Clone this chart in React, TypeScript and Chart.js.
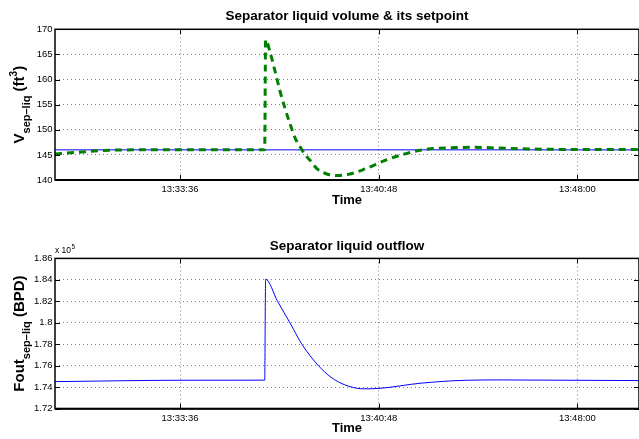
import React, { useEffect, useRef } from "react";
import { Chart, registerables } from "chart.js";

Chart.register(...registerables);

const FONT = "'Liberation Sans', Arial, Helvetica, sans-serif";
const GRID = "rgba(0,0,0,0.5)";

// ---- data ----
const timeStart = "13:29:04";
const timeEnd = "13:50:14";
const timeTicks = ["13:33:36", "13:40:48", "13:48:00"];

const volTitle = "Separator liquid volume & its setpoint";
const volTicks = [140, 145, 150, 155, 160, 165, 170];
const volTimes = [
  "13:29:04", "13:29:52", "13:30:42", "13:31:54", "13:36:40", "13:36:42",
  "13:36:52", "13:37:03", "13:37:13", "13:37:24", "13:37:35", "13:37:46",
  "13:37:57", "13:38:08", "13:38:19", "13:38:33", "13:38:55", "13:39:20",
  "13:39:46", "13:40:18", "13:41:05", "13:41:49", "13:42:32", "13:43:16",
  "13:44:14", "13:45:26", "13:47:08", "13:50:14",
];
const volValues = [
  145.2, 145.5, 145.85, 146.0, 146.0, 167.9,
  165.3, 161.5, 157.8, 154.3, 151.2, 148.4,
  146.6, 145.0, 143.9, 142.3, 141.2, 140.9,
  141.2, 142.2, 144.0, 145.3, 146.1, 146.4,
  146.5, 146.3, 146.1, 146.05,
];
const setTimes = ["13:29:04", "13:50:14"];
const setValues = [146, 146];

const outTitle = "Separator liquid outflow";
const outTicks = [172000, 174000, 176000, 178000, 180000, 182000, 184000, 186000];
const outTimes = [
  "13:29:04", "13:31:25", "13:33:36", "13:36:40", "13:36:42", "13:37:08",
  "13:37:35", "13:38:01", "13:38:37", "13:39:02", "13:39:20", "13:39:46",
  "13:40:15", "13:40:51", "13:42:18", "13:43:59", "13:45:19", "13:47:44",
  "13:50:14",
];
const outValues = [
  174520, 174600, 174650, 174660, 184060, 182000,
  180000, 178000, 176000, 175000, 174500, 174050,
  173850, 173900, 174370, 174650, 174680, 174650,
  174620,
];

// ---- helpers ----
const toSec = (s: string) => {
  const [h, m, x] = s.split(":").map(Number);
  return h * 3600 + m * 60 + x;
};
const pad = (n: number) => String(n).padStart(2, "0");
const fmtTime = (v: number) => {
  const r = Math.round(v);
  return `${Math.floor(r / 3600)}:${pad(Math.floor((r % 3600) / 60))}:${pad(r % 60)}`;
};

type Part = { t: string; size: number; dy: number };

const decor = {
  id: "decor",
  afterDraw(chart: any, _a: any, o: any) {
    const { ctx, chartArea: a } = chart;
    const xs = chart.scales.x;
    const ys = chart.scales.y;
    ctx.save();
    ctx.strokeStyle = "#000";
    ctx.lineWidth = 1;
    ctx.setLineDash([]);
    ctx.beginPath();
    for (const t of xs.ticks) {
      const px = Math.round(xs.getPixelForValue(t.value)) + 0.5;
      ctx.moveTo(px, a.bottom);
      ctx.lineTo(px, a.bottom - 5);
      ctx.moveTo(px, a.top);
      ctx.lineTo(px, a.top + 5);
    }
    for (const t of ys.ticks) {
      const py = Math.round(ys.getPixelForValue(t.value)) + 0.5;
      ctx.moveTo(a.left, py);
      ctx.lineTo(a.left + 5, py);
      ctx.moveTo(a.right, py);
      ctx.lineTo(a.right - 5, py);
    }
    ctx.stroke();
    ctx.lineWidth = 1.5;
    ctx.strokeRect(a.left, a.top, a.right - a.left, a.bottom - a.top);
    ctx.lineWidth = 2;
    ctx.beginPath();
    ctx.moveTo(a.left, a.bottom);
    ctx.lineTo(a.right, a.bottom);
    ctx.stroke();

    // rotated y label with sub/superscripts
    const parts: Part[] = o.label || [];
    ctx.fillStyle = "#000";
    ctx.textBaseline = "alphabetic";
    ctx.textAlign = "left";
    let total = 0;
    const widths = parts.map((p) => {
      ctx.font = `bold ${p.size}px ${FONT}`;
      const w = ctx.measureText(p.t).width;
      total += w;
      return w;
    });
    ctx.translate(o.labelX, (a.top + a.bottom) / 2);
    ctx.rotate(-Math.PI / 2);
    let x = -total / 2;
    parts.forEach((p, i) => {
      ctx.font = `bold ${p.size}px ${FONT}`;
      ctx.fillText(p.t, x, o.baseline + p.dy);
      x += widths[i];
    });
    ctx.restore();

    if (o.exponent) {
      ctx.save();
      ctx.fillStyle = "#000";
      ctx.textBaseline = "alphabetic";
      ctx.font = `8.5px ${FONT}`;
      const base = a.top - 5;
      ctx.fillText("x 10", a.left, base);
      const w = ctx.measureText("x 10").width;
      ctx.font = `6.5px ${FONT}`;
      ctx.fillText(o.exponent, a.left + w + 0.5, base - 4);
      ctx.restore();
    }
  },
};

function makeConfig(p: {
  title: string;
  titlePad: { top: number; bottom: number };
  bottomPad: number;
  datasets: any[];
  yMin: number;
  yMax: number;
  yTicks: number[];
  yFmt: (v: number) => string;
  label: Part[];
  exponent?: string;
}): any {
  const tickFont = { size: 9.5, family: FONT };
  return {
    type: "line",
    data: { datasets: p.datasets },
    plugins: [decor],
    options: {
      animation: false,
      responsive: false,
      maintainAspectRatio: false,
      parsing: false,
      layout: { padding: { top: 0, left: 0, right: 0, bottom: p.bottomPad } },
      elements: { point: { radius: 0 } },
      plugins: {
        legend: { display: false },
        tooltip: { enabled: false },
        title: {
          display: true,
          text: p.title,
          fullSize: false,
          color: "#000",
          font: { size: 13.5, weight: "bold", family: FONT, lineHeight: 1.2 },
          padding: p.titlePad,
        },
        decor: { label: p.label, labelX: 18, baseline: 5.5, exponent: p.exponent },
      },
      scales: {
        x: {
          type: "linear",
          min: toSec(timeStart),
          max: toSec(timeEnd),
          afterBuildTicks: (s: any) => {
            s.ticks = timeTicks.map((t) => ({ value: toSec(t) }));
          },
          afterFit: (s: any) => {
            s.height = 28;
          },
          ticks: {
            callback: (v: number) => fmtTime(v),
            font: tickFont,
            color: "#000",
            padding: 4,
            maxRotation: 0,
            autoSkip: false,
          },
          grid: { color: GRID, lineWidth: 1, drawTicks: false },
          border: { display: false, dash: [1, 3] },
          title: {
            display: true,
            text: "Time",
            color: "#000",
            font: { size: 13, weight: "bold", family: FONT, lineHeight: 1.2 },
            padding: { top: 0, bottom: 0 },
          },
        },
        y: {
          type: "linear",
          min: p.yMin,
          max: p.yMax,
          afterBuildTicks: (s: any) => {
            s.ticks = p.yTicks.map((v) => ({ value: v }));
          },
          afterFit: (s: any) => {
            s.width = 55;
          },
          ticks: {
            callback: (v: number) => p.yFmt(v),
            font: tickFont,
            color: "#000",
            padding: 2.5,
          },
          grid: { color: GRID, lineWidth: 1, drawTicks: false },
          border: { display: false, dash: [1, 3] },
        },
      },
    },
  };
}

const pts = (times: string[], vals: number[]) =>
  times.map((t, i) => ({ x: toSec(t), y: vals[i] }));

export default function App() {
  const topRef = useRef<HTMLCanvasElement>(null);
  const botRef = useRef<HTMLCanvasElement>(null);

  useEffect(() => {
    const c1 = new Chart(
      topRef.current!,
      makeConfig({
        title: volTitle,
        titlePad: { top: 8.4, bottom: 4.7 },
        bottomPad: 12,
        yMin: volTicks[0],
        yMax: volTicks[volTicks.length - 1],
        yTicks: volTicks,
        yFmt: (v) => String(v),
        label: [
          { t: "V", size: 15, dy: 0 },
          { t: "sep\u2013liq", size: 11, dy: 6 },
          { t: " (ft", size: 15, dy: 0 },
          { t: "3", size: 10, dy: -6.5 },
          { t: ")", size: 15, dy: 0 },
        ],
        datasets: [
          {
            data: pts(volTimes, volValues),
            borderColor: "#008000",
            borderWidth: 3,
            borderDash: [7, 5],
            cubicInterpolationMode: "monotone",
            fill: false,
          },
          {
            data: pts(setTimes, setValues),
            borderColor: "#0000ff",
            borderWidth: 1,
            fill: false,
          },
        ],
      })
    );
    const c2 = new Chart(
      botRef.current!,
      makeConfig({
        title: outTitle,
        titlePad: { top: 17.9, bottom: 4.3 },
        bottomPad: 2.3,
        yMin: outTicks[0],
        yMax: outTicks[outTicks.length - 1],
        yTicks: outTicks,
        yFmt: (v) => String(Number((v / 1e5).toFixed(2))),
        exponent: "5",
        label: [
          { t: "Fout", size: 15, dy: 0 },
          { t: "sep\u2013liq", size: 11, dy: 6 },
          { t: " (BPD)", size: 15, dy: 0 },
        ],
        datasets: [
          {
            data: pts(outTimes, outValues),
            borderColor: "#0000ff",
            borderWidth: 1,
            cubicInterpolationMode: "monotone",
            fill: false,
          },
        ],
      })
    );
    return () => {
      c1.destroy();
      c2.destroy();
    };
  }, []);

  return (
    <div
      style={{
        position: "absolute",
        left: 0,
        top: 0,
        width: 639,
        height: 439,
        background: "#fff",
      }}
    >
      <canvas ref={topRef} width={639} height={220} style={{ display: "block", width: 639, height: 220 }} />
      <canvas ref={botRef} width={639} height={219} style={{ display: "block", width: 639, height: 219 }} />
    </div>
  );
}
